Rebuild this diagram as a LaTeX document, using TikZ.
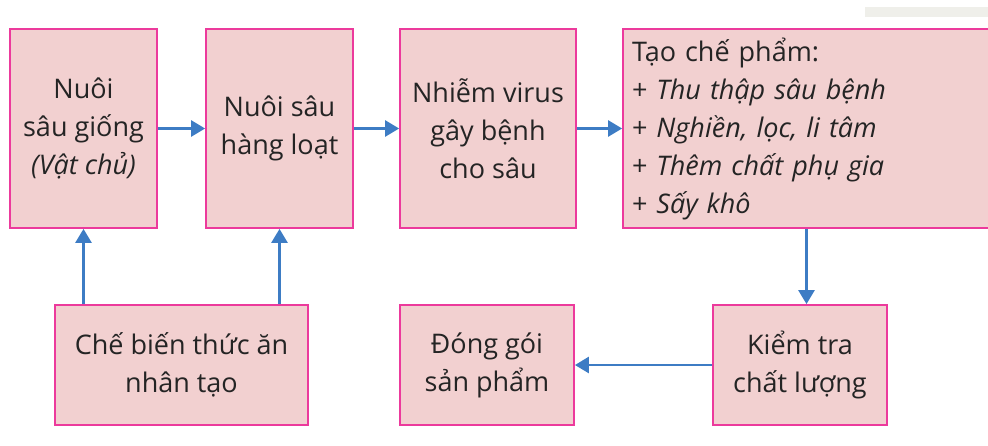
\documentclass[tikz,border=0pt]{standalone}
\usepackage{fontspec}
\setmainfont{Open Sans}
\usetikzlibrary{arrows.meta}
\definecolor{boxfill}{HTML}{F2D0D0}
\definecolor{boxline}{HTML}{EC3A9C}
\definecolor{arrowblue}{HTML}{3D7CC4}
\definecolor{txt}{HTML}{242424}
\definecolor{greybar}{HTML}{EFEFEA}
\tikzset{
  stepbox/.style={draw=boxline, line width=1.8pt, fill=boxfill, inner sep=0pt,
    text=txt, align=center, font=\fontsize{27}{38}\selectfont},
  flow/.style={draw=arrowblue, line width=2.6pt, -{Triangle[length=14pt,width=16pt]}}
}
\begin{document}
\begin{tikzpicture}[x=1pt,y=-1pt]
\useasboundingbox (0,0) rectangle (988,445);
\fill[greybar] (865,7) rectangle (988,17);
% top row
\node[stepbox, minimum width=147pt, minimum height=199pt] (b1) at (83.5,128.5) {Nuôi\\sâu giống\\\textit{(Vật chủ)}};
\node[stepbox, minimum width=147pt, minimum height=199pt] (b2) at (279.5,128.5) {Nuôi sâu\\hàng loạt};
\node[stepbox, minimum width=176pt, minimum height=199pt] (b3) at (488,128.5) {Nhiễm virus\\gây bệnh\\cho sâu};
\node[stepbox, minimum width=367pt, minimum height=199pt, text width=349pt, align=left, inner xsep=9pt] (b4) at (806.5,128.5) {Tạo chế phẩm:\\+ \textit{Thu thập sâu bệnh}\\+ \textit{Nghiền, lọc, li tâm}\\+ \textit{Thêm chất phụ gia}\\+ \textit{Sấy khô}};
% bottom row
\node[stepbox, minimum width=253pt, minimum height=120pt] (b5) at (181.5,365) {Chế biến thức ăn\\nhân tạo};
\node[stepbox, minimum width=174pt, minimum height=120pt] (b6) at (487,365) {Đóng gói\\sản phẩm};
\node[stepbox, minimum width=174pt, minimum height=120pt] (b7) at (800,365) {Kiểm tra\\chất lượng};
% connectors
\draw[flow] (b1.east) -- (b2.west);
\draw[flow] (b2.east) -- (b3.west);
\draw[flow] (b3.east) -- (b4.west);
\draw[flow] (b5.north -| b1.south) -- (b1.south);
\draw[flow] (b5.north -| b2.south) -- (b2.south);
\draw[flow] (b4.south) -- (b4.south |- b7.north);
\draw[flow] (b7.west) -- (b6.east);
\end{tikzpicture}
\end{document}
